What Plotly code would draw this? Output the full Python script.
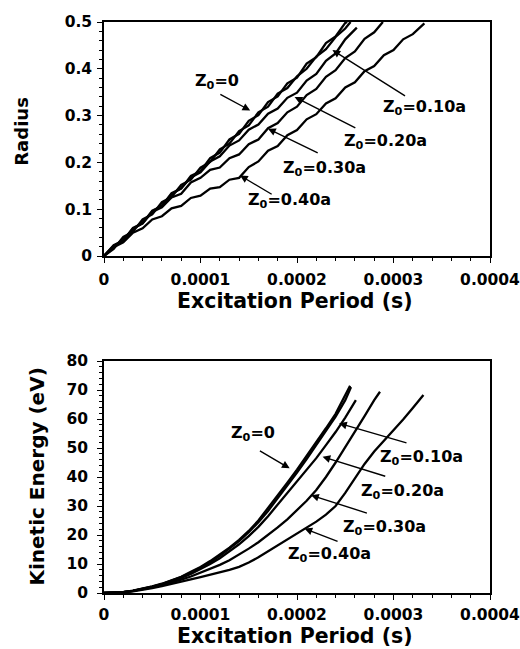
import plotly.graph_objects as go

# ---------------- data (time in units of 1e-4 s) ----------------
# Top panel: Radius vs excitation period
t_r0 = [0, .1, .2, .3, .4, .5, .6, .7, .8, .9, 1.0, 1.1, 1.2, 1.3, 1.4, 1.5, 1.6, 1.7, 1.8, 1.9,
        2.0, 2.1, 2.2, 2.3, 2.4, 2.5, 2.52]
r_z0 = [0, .023, .033, .060, .070, .097, .107, .134, .144, .171, .181, .209, .221, .249, .261, .289,
        .301, .329, .341, .369, .381, .411, .425, .455, .469, .498, .5]

t_r10 = [0, .1, .2, .3, .4, .5, .6, .7, .8, .9, 1.0, 1.1, 1.2, 1.3, 1.4, 1.5, 1.6, 1.7, 1.8, 1.9,
         2.0, 2.1, 2.2, 2.3, 2.4, 2.5, 2.555]
r_z10 = [0, .015, .041, .052, .078, .089, .115, .126, .152, .163, .189, .201, .228, .240, .267, .279,
         .307, .319, .347, .359, .384, .400, .426, .442, .468, .486, .5]

t_r20 = [0, .1, .2, .3, .4, .5, .6, .7, .8, .9, 1.0, 1.1, 1.2, 1.3, 1.4, 1.5, 1.6, 1.7, 1.8, 1.9,
         2.0, 2.1, 2.2, 2.3, 2.4, 2.5, 2.62]
r_z20 = [0, .021, .034, .058, .071, .095, .108, .132, .145, .168, .179, .202, .213, .236, .247, .270,
         .281, .304, .315, .338, .349, .375, .389, .417, .433, .463, .488]

t_r30 = [0, .1, .2, .3, .4, .5, .6, .7, .8, .9, 1.0, 1.1, 1.2, 1.3, 1.4, 1.5, 1.6, 1.7, 1.8, 1.9,
         2.0, 2.1, 2.2, 2.3, 2.4, 2.5, 2.6, 2.7, 2.8, 2.89]
r_z30 = [0, .021, .033, .058, .070, .094, .104, .125, .133, .157, .167, .184, .189, .209, .217, .239,
         .249, .273, .284, .307, .319, .344, .357, .383, .397, .423, .437, .464, .478, .5]

t_r40 = [0, .1, .2, .3, .4, .5, .6, .7, .8, .9, 1.0, 1.1, 1.2, 1.3, 1.4, 1.5, 1.6, 1.7, 1.8, 1.9,
         2.0, 2.1, 2.2, 2.3, 2.4, 2.5, 2.6, 2.7, 2.8, 2.9, 3.0, 3.1, 3.2, 3.32]
r_z40 = [0, .019, .029, .050, .059, .078, .085, .102, .107, .124, .129, .144, .147, .163, .167, .190,
         .202, .225, .235, .258, .269, .292, .303, .326, .337, .360, .371, .395, .406, .429, .440,
         .463, .474, .497]

# Bottom panel: Kinetic energy (eV) vs excitation period
t_k0 = [0, .1, .2, .3, .4, .5, .6, .7, .8, .9, 1.0, 1.1, 1.2, 1.3, 1.4, 1.5, 1.6, 1.7, 1.8, 1.9,
        2.0, 2.1, 2.2, 2.3, 2.4, 2.5, 2.55]
k_z0 = [0, .05, .3, .8, 1.5, 2.3, 3.2, 4.3, 5.6, 7.3, 9.0, 11.0, 13.2, 15.6, 18.3, 21.4, 25.0, 29.2,
        33.6, 38.0, 42.5, 47.2, 52.0, 56.8, 61.8, 68.0, 71.5]

t_k10 = [0, .1, .2, .3, .4, .5, .6, .7, .8, .9, 1.0, 1.1, 1.2, 1.3, 1.4, 1.5, 1.6, 1.7, 1.8, 1.9,
         2.0, 2.1, 2.2, 2.3, 2.4, 2.5, 2.56]
k_z10 = [0, .05, .3, .7, 1.4, 2.2, 3.1, 4.2, 5.5, 7.0, 8.7, 10.6, 12.8, 15.2, 17.9, 21.0, 24.4, 28.3,
         32.6, 37.0, 41.5, 46.2, 51.0, 55.8, 60.8, 66.5, 71.0]

t_k20 = [0, .1, .2, .3, .4, .5, .6, .7, .8, .9, 1.0, 1.1, 1.2, 1.3, 1.4, 1.5, 1.6, 1.7, 1.8, 1.9,
         2.0, 2.1, 2.2, 2.3, 2.4, 2.5, 2.61]
k_z20 = [0, .05, .3, .7, 1.3, 2.1, 3.0, 4.0, 5.2, 6.6, 8.2, 10.0, 12.0, 14.3, 16.8, 19.6, 22.8, 26.5,
         30.5, 34.5, 38.5, 42.5, 46.5, 51.0, 55.5, 60.5, 66.5]

t_k30 = [0, .1, .2, .3, .4, .5, .6, .7, .8, .9, 1.0, 1.1, 1.2, 1.3, 1.4, 1.5, 1.6, 1.7, 1.8, 1.9,
         2.0, 2.1, 2.2, 2.3, 2.4, 2.5, 2.6, 2.7, 2.8, 2.86]
k_z30 = [0, .05, .3, .7, 1.2, 1.9, 2.7, 3.6, 4.6, 5.7, 7.0, 8.3, 9.7, 11.3, 13.2, 15.3, 17.5, 20.0,
         22.6, 25.4, 28.5, 31.8, 35.5, 40.0, 45.0, 50.2, 55.5, 61.0, 66.5, 69.4]

t_k40 = [0, .1, .2, .3, .4, .5, .6, .7, .8, .9, 1.0, 1.1, 1.2, 1.3, 1.4, 1.5, 1.6, 1.7, 1.8, 1.9,
         2.0, 2.1, 2.2, 2.3, 2.4, 2.5, 2.6, 2.7, 2.8, 2.9, 3.0, 3.1, 3.2, 3.31]
k_z40 = [0, .05, .3, .6, 1.1, 1.7, 2.4, 3.1, 3.9, 4.7, 5.5, 6.3, 7.1, 8.0, 9.0, 10.5, 12.3, 14.3,
         16.4, 18.4, 20.4, 22.4, 24.6, 27.0, 30.0, 34.5, 39.5, 44.5, 48.8, 52.5, 56.0, 59.8, 63.8, 68.3]

x_tickvals = [0, 1e-4, 2e-4, 3e-4, 4e-4]
x_ticktext = ["0", "0.0001", "0.0002", "0.0003", "0.0004"]
r_tickvals = [0, 0.1, 0.2, 0.3, 0.4, 0.5]
r_ticktext = ["0", "0.1", "0.2", "0.3", "0.4", "0.5"]
k_tickvals = [0, 10, 20, 30, 40, 50, 60, 70, 80]
k_ticktext = [str(v) for v in k_tickvals]

UNIT = 1e-4
FONT = "DejaVu Sans"

def sec(ts):
    return [v * UNIT for v in ts]

fig = go.Figure()
top = [(t_r0, r_z0), (t_r10, r_z10), (t_r20, r_z20), (t_r30, r_z30), (t_r40, r_z40)]
bot = [(t_k0, k_z0), (t_k10, k_z10), (t_k20, k_z20), (t_k30, k_z30), (t_k40, k_z40)]
for ts, vs in top:
    fig.add_trace(go.Scatter(x=sec(ts), y=vs, mode="lines", xaxis="x", yaxis="y",
                             line=dict(color="black", width=2.3), showlegend=False))
for ts, vs in bot:
    fig.add_trace(go.Scatter(x=sec(ts), y=vs, mode="lines", xaxis="x2", yaxis="y2",
                             line=dict(color="black", width=2.3), showlegend=False))

tickfont = dict(family=FONT, size=15.5, color="black", weight="bold")
axis_common = dict(showline=True, linecolor="black", linewidth=1.5, mirror=True,
                   ticks="outside", ticklen=5, tickwidth=1.2, tickcolor="black",
                   showgrid=False, zeroline=False, tickfont=tickfont)

fig.update_layout(
    width=532, height=649,
    margin=dict(l=104, r=28, t=22, b=56),
    paper_bgcolor="white", plot_bgcolor="white",
    xaxis=dict(domain=[0, 1], anchor="y", range=[0, 4e-4], tickvals=x_tickvals, ticktext=x_ticktext,
               ticklabeloverflow="allow", ticklabelstandoff=4,
               minor=dict(dtick=2e-5, ticks="outside", ticklen=3, tickcolor="black"), **axis_common),
    yaxis=dict(domain=[0.5902, 1], anchor="x", range=[0, 0.5], tickvals=r_tickvals, ticktext=r_ticktext,
               ticklabelstandoff=2,
               minor=dict(dtick=0.02, ticks="outside", ticklen=3, tickcolor="black"), **axis_common),
    xaxis2=dict(domain=[0, 1], anchor="y2", range=[0, 4e-4], tickvals=x_tickvals, ticktext=x_ticktext,
                ticklabeloverflow="allow", ticklabelstandoff=2,
                minor=dict(dtick=2e-5, ticks="outside", ticklen=3, tickcolor="black"), **axis_common),
    yaxis2=dict(domain=[0, 0.4063], anchor="x2", range=[0, 80], tickvals=k_tickvals, ticktext=k_ticktext,
                ticklabelstandoff=6,
                minor=dict(dtick=2, ticks="outside", ticklen=3, tickcolor="black"), **axis_common),
)

ann_font = dict(family=FONT, size=16, color="black", weight="bold")

def label(text, x, y, xr, yr):
    fig.add_annotation(text=text, x=x * UNIT, y=y, xref=xr, yref=yr, showarrow=False, font=ann_font,
                       xanchor="center", yanchor="middle")

def arrow(tail, tip, xr, yr):
    fig.add_annotation(text="", x=tip[0] * UNIT, y=tip[1], ax=tail[0] * UNIT, ay=tail[1],
                       xref=xr, yref=yr, axref=xr, ayref=yr, showarrow=True,
                       arrowhead=2, arrowsize=1.1, arrowwidth=1.4, arrowcolor="black")

Z = "Z<sub>0</sub>="
# top panel labels and arrows
label(Z + "0", 1.174, 0.372, "x", "y")
arrow((1.19, 0.347), (1.515, 0.311), "x", "y")
label(Z + "0.10a", 3.32, 0.317, "x", "y")
arrow((3.135, 0.340), (2.367, 0.44), "x", "y")
label(Z + "0.20a", 2.92, 0.244, "x", "y")
arrow((2.62, 0.272), (1.975, 0.340), "x", "y")
label(Z + "0.30a", 2.29, 0.187, "x", "y")
arrow((2.23, 0.219), (1.70, 0.272), "x", "y")
label(Z + "0.40a", 1.924, 0.119, "x", "y")
arrow((1.753, 0.130), (1.41, 0.172), "x", "y")

# bottom panel labels and arrows
label(Z + "0", 1.54, 55.0, "x2", "y2")
arrow((1.60, 49.3), (1.924, 43.0), "x2", "y2")
label(Z + "0.10a", 3.29, 46.7, "x2", "y2")
arrow((3.15, 51.6), (2.436, 58.5), "x2", "y2")
label(Z + "0.20a", 3.09, 35.1, "x2", "y2")
arrow((2.93, 40.1), (2.265, 47.0), "x2", "y2")
label(Z + "0.30a", 2.905, 22.5, "x2", "y2")
arrow((2.74, 27.4), (2.146, 33.7), "x2", "y2")
label(Z + "0.40a", 2.34, 13.4, "x2", "y2")
arrow((2.436, 17.6), (2.078, 22.2), "x2", "y2")

# axis titles (explicit anchors so paper positions are centres)
title_font_x = dict(family=FONT, size=20.5, color="black", weight="bold")
common_t = dict(xref="paper", yref="paper", showarrow=False, xanchor="center", yanchor="middle")
fig.add_annotation(text="Excitation Period (s)", x=0.4936, y=0.5120, font=title_font_x, **common_t)
fig.add_annotation(text="Excitation Period (s)", x=0.4936, y=-0.0745, font=title_font_x, **common_t)
fig.add_annotation(text="Radius", x=-0.2123, y=0.8079, textangle=-90,
                   font=dict(family=FONT, size=18, color="black", weight="bold"), **common_t)
fig.add_annotation(text="Kinetic Energy (eV)", x=-0.1739, y=0.2037, textangle=-90,
                   font=dict(family=FONT, size=20, color="black", weight="bold"), **common_t)

fig.write_html("out.html", config={"displayModeBar": False},
               post_script="document.body.style.margin='0';document.body.style.overflow='hidden';"
                           "document.documentElement.style.overflow='hidden';")
